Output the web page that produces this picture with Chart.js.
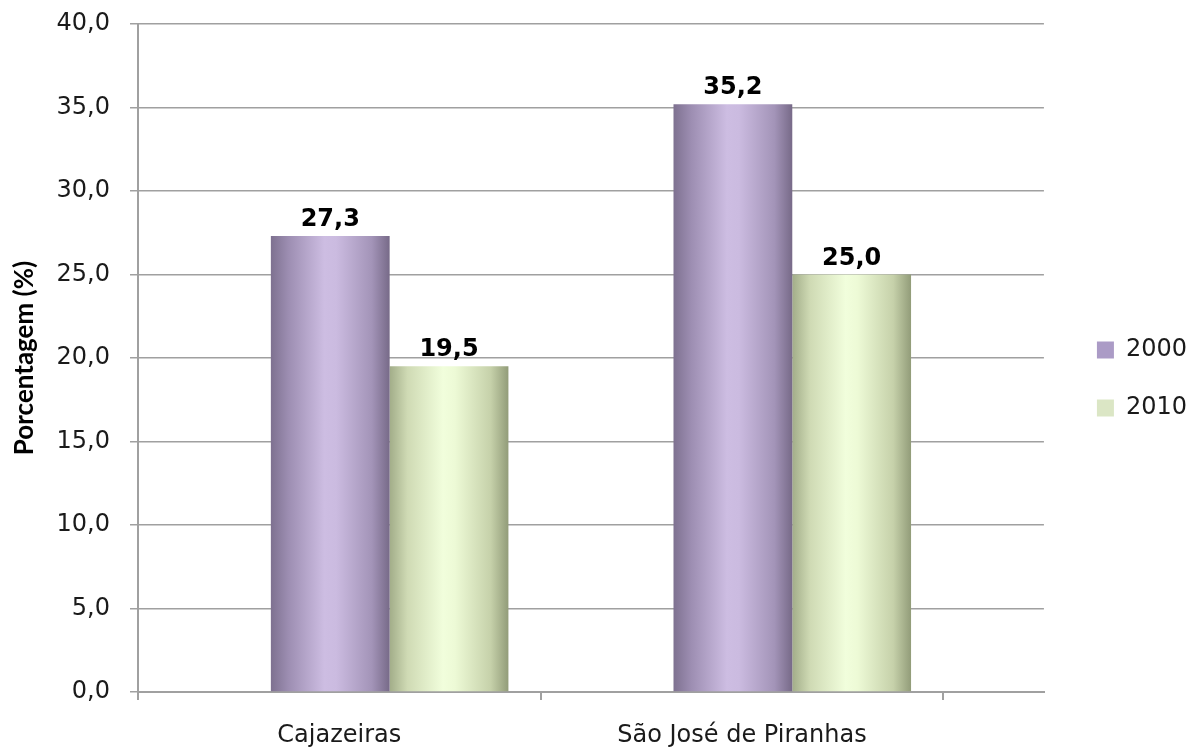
<!DOCTYPE html>
<html>
<head>
<meta charset="utf-8">
<title>Porcentagem (%) - Cajazeiras e São José de Piranhas</title>
<script src="https://cdn.jsdelivr.net/npm/chart.js@4.4.1/dist/chart.umd.min.js"></script>
<style>
  html, body { margin: 0; padding: 0; background: #fff; overflow: hidden; }
  #chart { display: block; }
</style>
</head>
<body>
<canvas id="chart" width="1199" height="749"></canvas>
<script>
const categories = ['Cajazeiras', 'São José de Piranhas']
const years = ['2000', '2010']
const values2000 = [27.3, 35.2]
const values2010 = [19.5, 25.0]
const yTicks = [0, 5, 10, 15, 20, 25, 30, 35, 40]

const series = [values2000, values2010]
const swatch = ['#ab9bc6', '#dbe6c5']
// left edge -> highlight -> right edge, gives the bars a rounded look
const shades = [
  ['#7e7190', '#9d8eb2', '#cdbde2', '#cbbbe0', '#a394b8', '#776a88'],
  ['#a2ad89', '#cfdab4', '#f1fedc', '#edfad6', '#c6d1aa', '#929c79'],
]
const stops = [0, 0.15, 0.45, 0.55, 0.85, 1]

const GRID = '#a0a0a0'
const TEXT = '#1a1a1a'
const FONT = '"DejaVu Sans", sans-serif'

const fmt = v => v.toFixed(1).replace('.', ',')

// axis starts a bit left of the first group; tick marks every unit from there,
// category names half a unit past each tick mark
const X_MIN = -0.625
const X_MAX = categories.length - 0.375

const cylinderShade = {
  id: 'cylinderShade',
  beforeDatasetsDraw(chart) {
    const ctx = chart.ctx
    chart.data.datasets.forEach((ds, di) => {
      chart.getDatasetMeta(di).data.forEach(bar => {
        const half = bar.width / 2
        const g = ctx.createLinearGradient(bar.x - half, 0, bar.x + half, 0)
        shades[di].forEach((c, k) => g.addColorStop(stops[k], c))
        bar.options = Object.assign({}, bar.options, { backgroundColor: g })
      })
    })
  },
}

const valueLabels = {
  id: 'valueLabels',
  afterDatasetsDraw(chart) {
    const ctx = chart.ctx
    ctx.save()
    ctx.font = `bold 24px ${FONT}`
    ctx.fillStyle = '#000'
    ctx.textAlign = 'center'
    ctx.textBaseline = 'alphabetic'
    chart.data.datasets.forEach((ds, di) => {
      chart.getDatasetMeta(di).data.forEach((bar, i) => {
        ctx.fillText(fmt(ds.data[i].y), bar.x, bar.y - 10)
      })
    })
    ctx.restore()
  },
}

new Chart(document.getElementById('chart'), {
  type: 'bar',
  data: {
    datasets: years.map((yr, k) => ({
      label: yr,
      data: series[k].map((v, i) => ({ x: i, y: v })),
      backgroundColor: swatch[k],
      borderWidth: 0,
      // the bar ruler sees the half-unit label ticks, so this is
      // relative to half a category: 1.18 * 0.5 = 59% of a group
      categoryPercentage: 1.18,
      barPercentage: 1,
    })),
  },
  options: {
    responsive: false,
    animation: false,
    devicePixelRatio: 1,
    layout: { padding: { top: 9, right: 2, bottom: 0, left: 0 } },
    plugins: {
      legend: {
        position: 'right',
        labels: {
          font: { family: FONT, size: 24 },
          color: TEXT,
          boxWidth: 17,
          boxHeight: 17,
          padding: 34,
        },
      },
      tooltip: { enabled: false },
    },
    scales: {
      x: {
        type: 'linear',
        min: X_MIN,
        max: X_MAX,
        offset: false,
        afterBuildTicks: s => {
          const ticks = []
          for (let v = X_MIN; v <= X_MAX + 1e-9; v += 0.5) ticks.push({ value: v })
          s.ticks = ticks
        },
        afterFit: s => { s.height = 57 },
        grid: {
          offset: false,
          drawOnChartArea: false,
          tickLength: 8,
          lineWidth: 2,
          color: GRID,
          tickColor: c => (c.index % 2 ? 'rgba(0,0,0,0)' : GRID),
        },
        border: { color: GRID, width: 2 },
        ticks: {
          autoSkip: false,
          maxRotation: 0,
          padding: 21,
          font: { family: FONT, size: 24 },
          color: TEXT,
          callback: (v, i) => (i % 2 ? categories[(i - 1) / 2] : ''),
        },
      },
      y: {
        min: 0,
        max: 40,
        afterBuildTicks: s => { s.ticks = yTicks.map(value => ({ value })) },
        afterFit: s => {
          s.width = 138
          s.paddingTop = 24
        },
        grid: { color: GRID, lineWidth: 1.5, tickLength: 8 },
        border: { color: GRID, width: 2 },
        ticks: {
          padding: 20,
          font: { family: FONT, size: 24 },
          color: TEXT,
          callback: v => fmt(v),
        },
        title: {
          display: true,
          text: 'Porcentagem (%)',
          font: { family: 'Lato', size: 26, weight: 'bold' },
          color: '#000',
          padding: { top: 9, bottom: 0 },
        },
      },
      // empty strip between plot and legend
      gap: {
        type: 'linear',
        position: 'right',
        grid: { display: false },
        border: { display: false },
        ticks: { display: false },
        afterFit: s => { s.width = 19 },
      },
    },
  },
  plugins: [cylinderShade, valueLabels],
})
</script>
</body>
</html>
